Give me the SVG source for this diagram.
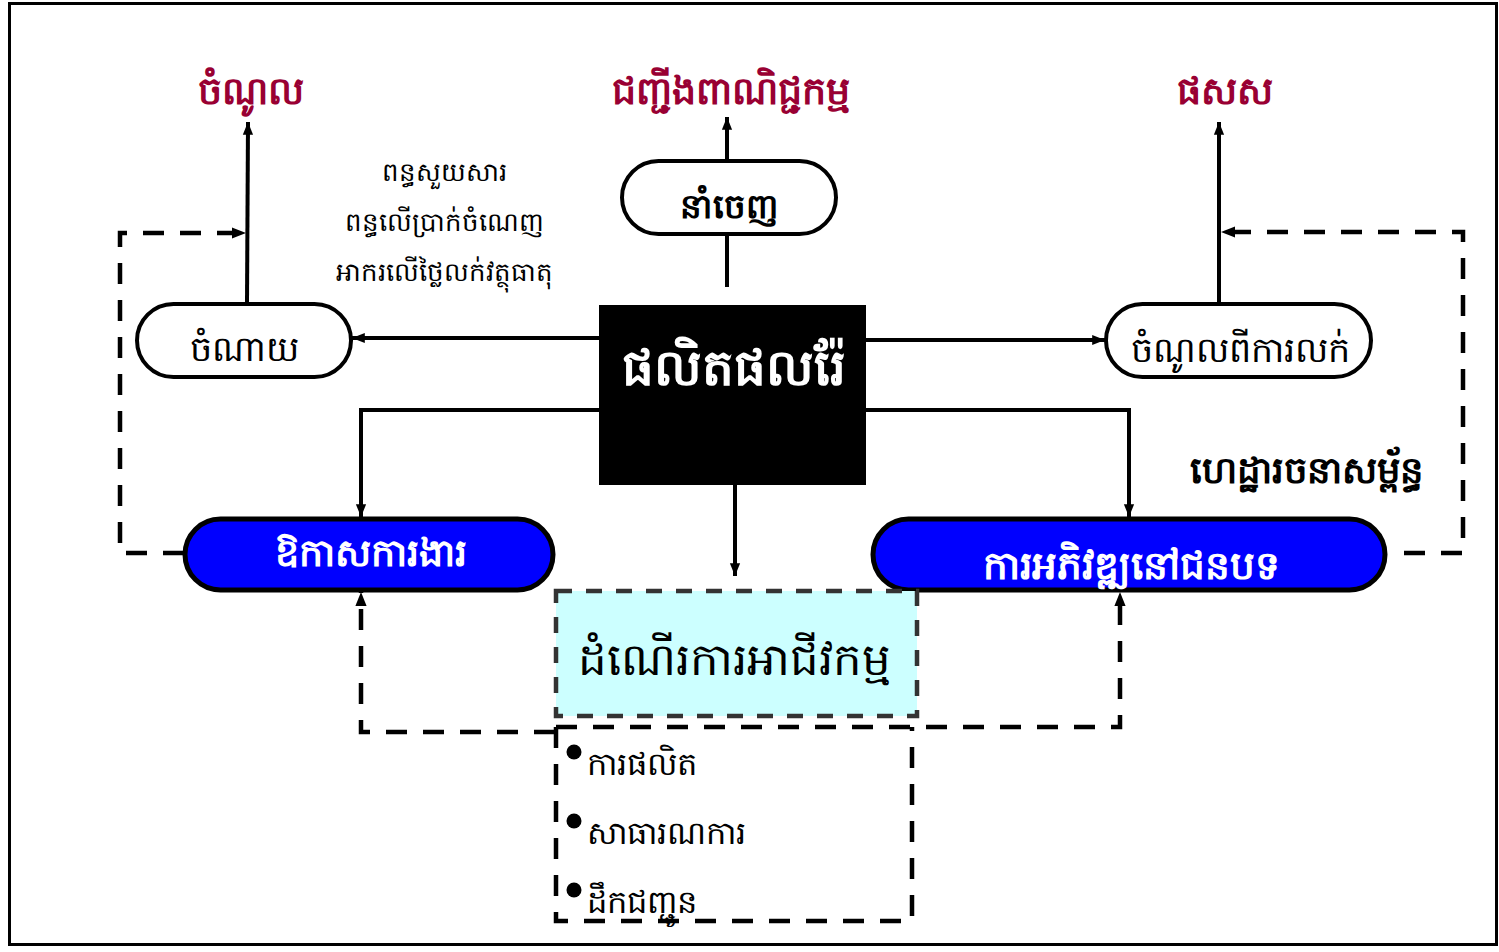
<svg xmlns="http://www.w3.org/2000/svg" width="1499" height="952" viewBox="0 0 1499 952">
<defs>
<style>
.t{font-family:"Noto Sans","DejaVu Sans",sans-serif;text-anchor:middle}
.red{fill:#990033;font-weight:bold;font-size:38px}
.pill{fill:#fff;stroke:#000;stroke-width:4}
.blue{fill:#0000ff;stroke:#000;stroke-width:5}
.ln{fill:none;stroke:#000;stroke-width:4}
.dash{fill:none;stroke:#000;stroke-width:4.5;stroke-dasharray:21 16}
.small{font-size:26px;fill:#000}
.wb{fill:#fff;font-weight:bold}
.bl{font-family:"Noto Sans","DejaVu Sans",sans-serif;font-size:32px}
</style>
<marker id="ah" viewBox="0 0 10 10" refX="10" refY="5" markerWidth="3.2" markerHeight="3.2" orient="auto" markerUnits="strokeWidth">
<path d="M0,1 L10,5 L0,9 z" fill="#000"/>
</marker>
</defs>
<rect x="0" y="0" width="1499" height="952" fill="#fff"/>
<rect x="9.5" y="3.5" width="1487" height="941" fill="none" stroke="#000" stroke-width="3"/>

<g id="connectors">
<line class="ln" x1="247" y1="303" x2="248" y2="122" marker-end="url(#ah)"/>
<line class="ln" x1="727" y1="160" x2="727" y2="117" marker-end="url(#ah)"/>
<line class="ln" x1="727" y1="287" x2="727" y2="234"/>
<line class="ln" x1="1219" y1="304" x2="1219" y2="122" marker-end="url(#ah)"/>
<line class="ln" x1="599" y1="338" x2="352" y2="338" marker-end="url(#ah)"/>
<line class="ln" x1="866" y1="340" x2="1105" y2="340" marker-end="url(#ah)"/>
<polyline class="ln" points="599,410 361,410 361,517" marker-end="url(#ah)"/>
<polyline class="ln" points="866,410 1129,410 1129,517" marker-end="url(#ah)"/>
<line class="ln" x1="735" y1="485" x2="735" y2="576" marker-end="url(#ah)"/>
<polyline class="dash" points="184,553 120,553 120,233 246,233" marker-end="url(#ah)"/>
<polyline class="dash" points="1404,553 1463,553 1463,232 1221,232" marker-end="url(#ah)"/>
<polyline class="dash" points="555,732 361,732 361,592" marker-end="url(#ah)"/>
<polyline class="dash" points="556,727 1120,727 1120,592" marker-end="url(#ah)"/>
</g>

<g id="lbl-income"><text class="t red" x="251" y="104">ចំណូល</text></g>
<g id="lbl-trade"><text class="t red" x="731" y="104">ជញ្ជីងពាណិជ្ជកម្ម</text></g>
<g id="lbl-gdp"><text class="t red" x="1225" y="104">ផសស</text></g>

<g id="taxes">
<text class="t small" x="444" y="181">ពន្ធសួយសារ</text>
<text class="t small" x="444" y="231">ពន្ធលើប្រាក់ចំណេញ</text>
<text class="t small" x="444" y="281">អាករលើថ្លៃលក់វត្ថុធាតុ</text>
</g>

<g id="export">
<rect class="pill" x="622" y="161" width="214" height="73" rx="36.5"/>
<text class="t" x="729" y="218" font-size="34" font-weight="bold">នាំចេញ</text>
</g>

<g id="expense">
<rect class="pill" x="137" y="304" width="214" height="73" rx="36.5"/>
<text class="t" x="244" y="361" font-size="35">ចំណាយ</text>
</g>

<g id="sales">
<rect class="pill" x="1106" y="304" width="265" height="73" rx="36.5"/>
<text class="t" x="1240" y="362" font-size="35">ចំណូលពីការលក់</text>
</g>

<g id="mineral">
<rect x="599" y="305" width="267" height="180" fill="#000"/>
<text class="t wb" x="734" y="385" font-size="50">ផលិតផលរ៉ែ</text>
</g>

<g id="jobs">
<rect class="blue" x="185" y="519" width="368" height="71" rx="35.5"/>
<text class="t wb" x="371" y="566" font-size="38">ឱកាសការងារ</text>
</g>

<g id="rural">
<rect class="blue" x="873" y="519" width="512" height="71" rx="35.5"/>
<text class="t wb" x="1131" y="579" font-size="39">ការអភិវឌ្ឍនៅជនបទ</text>
</g>

<g id="infra">
<text class="t" x="1306" y="483" font-size="37" font-weight="bold">ហេដ្ឋារចនាសម្ព័ន្ធ</text>
</g>

<g id="business">
<rect x="556" y="591" width="361" height="125" fill="#ccffff" stroke="#333" stroke-width="4.5" stroke-dasharray="16 14"/>
<text class="t" x="734" y="675" font-size="45">ដំណើរការអាជីវកម្ម</text>
</g>

<g id="activities">
<path class="dash" d="M556,727 L556,921 L912,921 L912,727"/>
<circle cx="574" cy="752" r="7.5" fill="#000"/>
<text class="bl" x="587" y="775">ការផលិត</text>
<circle cx="574" cy="821" r="7.5" fill="#000"/>
<text class="bl" x="587" y="844">សាធារណការ</text>
<circle cx="574" cy="890" r="7.5" fill="#000"/>
<text class="bl" x="587" y="913">ដឹកជញ្ជូន</text>
</g>
</svg>
